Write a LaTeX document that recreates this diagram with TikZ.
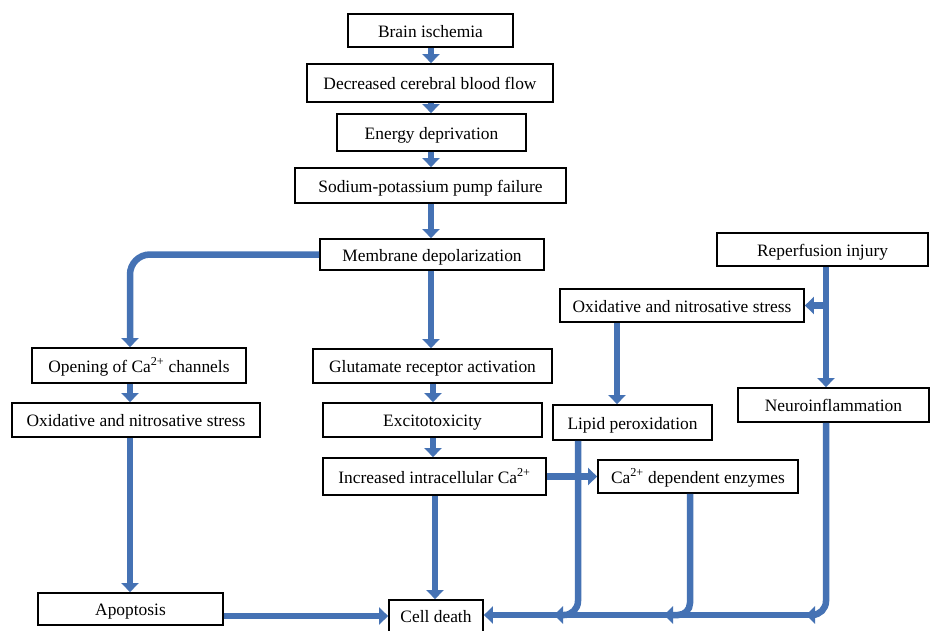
\documentclass[tikz,border=0pt]{standalone}
\usepackage{fontspec}
\setmainfont{Liberation Serif}
\usetikzlibrary{arrows.meta}
\definecolor{flowblue}{RGB}{69,114,180}
\begin{document}
\begin{tikzpicture}[x=1pt,y=-1pt,
  box/.style={draw=black, line width=1.8pt, fill=white, inner sep=0pt,
    font=\fontsize{17.4}{20}\selectfont, text height=16pt, text depth=3pt},
  flow/.style={draw=flowblue, line width=6.5pt, -{Triangle[length=9pt,width=17pt]}},
]
\clip (0,0) rectangle (932,630);
\fill[white] (0,0) rectangle (932,630);

% boxes
\node[box, minimum width=165pt, minimum height=33pt] (bi)   at (430.5,30.5) {Brain ischemia};
\node[box, minimum width=246pt, minimum height=38pt] (dcbf) at (430,83) {Decreased cerebral blood flow};
\node[box, minimum width=189pt, minimum height=37pt] (ed)   at (431.5,132.5) {Energy deprivation};
\node[box, minimum width=271pt, minimum height=35pt] (spf)  at (430.5,185.5) {Sodium-potassium pump failure};
\node[box, minimum width=224pt, minimum height=31pt] (md)   at (432,254.5) {Membrane depolarization};
\node[box, minimum width=214pt, minimum height=35pt] (oc)   at (139,365.5) {Opening of Ca\textsuperscript{2+} channels};
\node[box, minimum width=248pt, minimum height=34pt] (onsl) at (136,420) {Oxidative and nitrosative stress};
\node[box, minimum width=239pt, minimum height=34pt] (gra)  at (432.5,366) {Glutamate receptor activation};
\node[box, minimum width=219pt, minimum height=34pt] (ex)   at (432.5,420) {Excitotoxicity};
\node[box, minimum width=223pt, minimum height=37pt] (iic)  at (434.5,476.5) {Increased intracellular Ca\textsuperscript{2+}};
\node[box, minimum width=159pt, minimum height=35pt] (lp)   at (632.5,422.5) {Lipid peroxidation};
\node[box, minimum width=244pt, minimum height=33pt] (onsr) at (682,305.5) {Oxidative and nitrosative stress};
\node[box, minimum width=211pt, minimum height=33pt] (ri)   at (822.5,249.5) {Reperfusion injury};
\node[box, minimum width=191pt, minimum height=34pt] (ni)   at (833.5,405) {Neuroinflammation};
\node[box, minimum width=200pt, minimum height=33pt] (cde)  at (698,476.5) {Ca\textsuperscript{2+} dependent enzymes};
\node[box, minimum width=185pt, minimum height=32pt] (ap)   at (130.5,609) {Apoptosis};
\node[box, minimum width=94pt, minimum height=32pt]  (cd)   at (436,616) {Cell death};

% x positions of vertical connectors
\coordinate (xc) at (431,0);
\coordinate (xc2) at (433,0);
\coordinate (xc3) at (435,0);
\coordinate (xl) at (130,0);
\coordinate (xr) at (826,0);
\coordinate (xo) at (617,0);
\coordinate (xlp) at (578,0);
\coordinate (xe) at (690,0);
\coordinate (yb) at (0,615);
\coordinate (e1) at (554,615);
\coordinate (e2) at (664,615);
\coordinate (e3) at (806,615);
\coordinate (ms) at (810,615);

% connectors
\draw[flow] (bi.south -| xc) -- (dcbf.north -| xc);
\draw[flow] (dcbf.south -| xc) -- (ed.north -| xc);
\draw[flow] (ed.south -| xc) -- (spf.north -| xc);
\draw[flow] (spf.south -| xc) -- (md.north -| xc);
\draw[flow] (md.south -| xc) -- (gra.north -| xc);
\draw[flow] (gra.south -| xc2) -- (ex.north -| xc2);
\draw[flow] (ex.south -| xc2) -- (iic.north -| xc2);
\draw[flow] (iic.south -| xc3) -- (cd.north -| xc3);
\draw[flow, rounded corners=20pt] (md.west) -| (oc.north -| xl);
\draw[flow] (oc.south -| xl) -- (onsl.north -| xl);
\draw[flow] (onsl.south -| xl) -- (ap.north -| xl);
\draw[flow] (ap.east |- cd.west) -- (cd.west);
\draw[flow] (ri.south -| xr) -- (ni.north -| xr);
\draw[flow] (xr |- onsr.east) -- (onsr.east);
\draw[flow] (onsr.south -| xo) -- (lp.north -| xo);
\draw[flow] (iic.east) -- (cde.west);
\draw[flow] (ms) -- (cd.east |- yb);
\draw[flow, rounded corners=14pt] (lp.south -| xlp) |- (e1);
\draw[flow, rounded corners=12pt] (cde.south -| xe) |- (e2);
\draw[flow, rounded corners=14pt] (ni.south -| xr) |- (e3);
\end{tikzpicture}
\end{document}
